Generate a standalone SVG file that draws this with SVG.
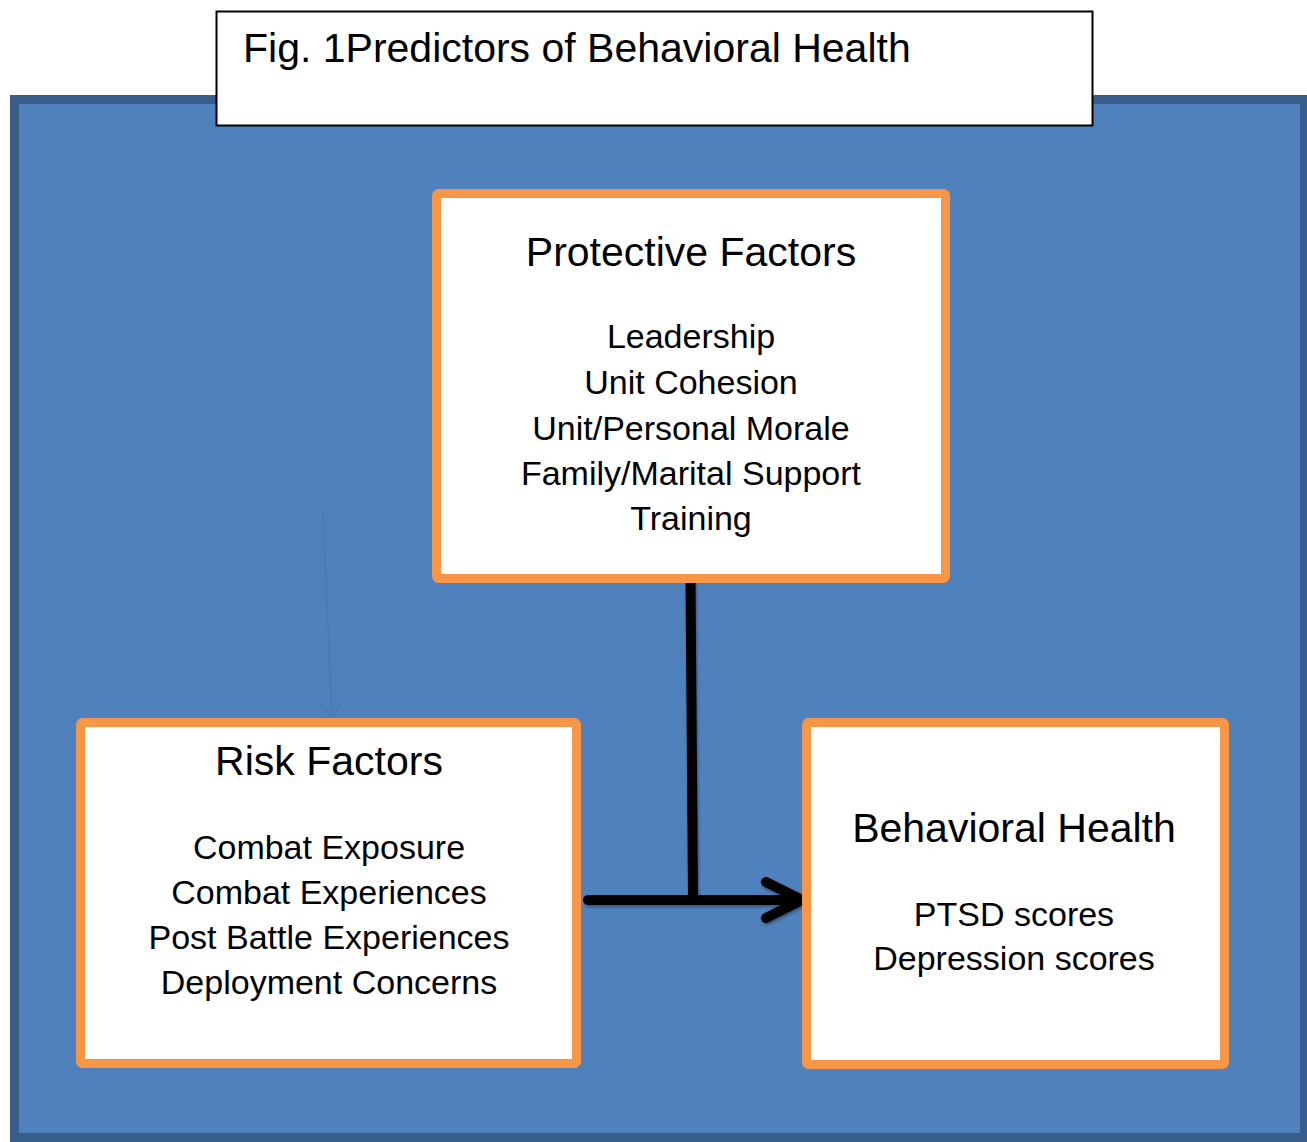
<svg xmlns="http://www.w3.org/2000/svg" width="1307" height="1142" viewBox="0 0 1307 1142">
  <style>
    .node rect { fill: #ffffff; stroke: #f79646; stroke-width: 9; }
    .head { font-family: "Liberation Sans", Arial, sans-serif; font-size: 41px; fill: #000000; text-anchor: middle; }
    .item { font-family: "Liberation Sans", Arial, sans-serif; font-size: 34px; fill: #000000; text-anchor: middle; }
    .link { fill: none; stroke: #000000; stroke-width: 10; stroke-linecap: round; stroke-linejoin: round; }
    .faint { fill: none; stroke: #4a7ab6; stroke-width: 1.5; stroke-linecap: round; }
  </style>
  <defs>
    <filter id="soft" x="-10%" y="-10%" width="120%" height="120%">
      <feGaussianBlur in="SourceAlpha" stdDeviation="1.5"/>
      <feOffset dx="1" dy="2" result="b"/>
      <feComponentTransfer><feFuncA type="linear" slope="0.35"/></feComponentTransfer>
      <feMerge><feMergeNode/><feMergeNode in="SourceGraphic"/></feMerge>
    </filter>
  </defs>

  <!-- page background -->
  <rect x="0" y="0" width="1307" height="1142" fill="#ffffff"/>

  <!-- blue panel -->
  <rect id="panel" x="14.5" y="99.5" width="1290" height="1038" fill="#4f81bd" stroke="#385d8a" stroke-width="9"/>

  <!-- figure caption -->
  <g id="caption">
    <rect x="216.5" y="11.5" width="876" height="114" fill="#ffffff" stroke="#000000" stroke-width="2"/>
    <text x="243" y="62" font-family="'Liberation Sans', Arial, sans-serif" font-size="41" fill="#000000">Fig. 1Predictors of Behavioral Health</text>
  </g>

  <!-- connectors -->
  <g id="connectors">
    <path class="faint" d="M323 513 L332 718 M319 701 L332 718 L343 701"/>
    <g filter="url(#soft)">
      <path class="link" d="M690.5 580 L693 896"/>
      <path class="link" d="M588 900 L802 900"/>
      <path class="link" d="M766 882 L802 900 L766 918"/>
    </g>
  </g>

  <!-- Protective Factors -->
  <g id="protective" class="node">
    <rect x="436.5" y="193.5" width="509" height="385" rx="2"/>
    <text class="head" x="691" y="266">Protective Factors</text>
    <text class="item" x="691" y="348">Leadership</text>
    <text class="item" x="691" y="394">Unit Cohesion</text>
    <text class="item" x="691" y="440">Unit/Personal Morale</text>
    <text class="item" x="691" y="485">Family/Marital Support</text>
    <text class="item" x="691" y="530">Training</text>
  </g>

  <!-- Risk Factors -->
  <g id="risk" class="node">
    <rect x="80.5" y="722.5" width="496" height="341" rx="2"/>
    <text class="head" x="329" y="775">Risk Factors</text>
    <text class="item" x="329" y="859">Combat Exposure</text>
    <text class="item" x="329" y="904">Combat Experiences</text>
    <text class="item" x="329" y="949">Post Battle Experiences</text>
    <text class="item" x="329" y="994">Deployment Concerns</text>
  </g>

  <!-- Behavioral Health -->
  <g id="behavioral" class="node">
    <rect x="806.5" y="722.5" width="418" height="342" rx="2"/>
    <text class="head" x="1014" y="842">Behavioral Health</text>
    <text class="item" x="1014" y="926">PTSD scores</text>
    <text class="item" x="1014" y="970">Depression scores</text>
  </g>
</svg>
